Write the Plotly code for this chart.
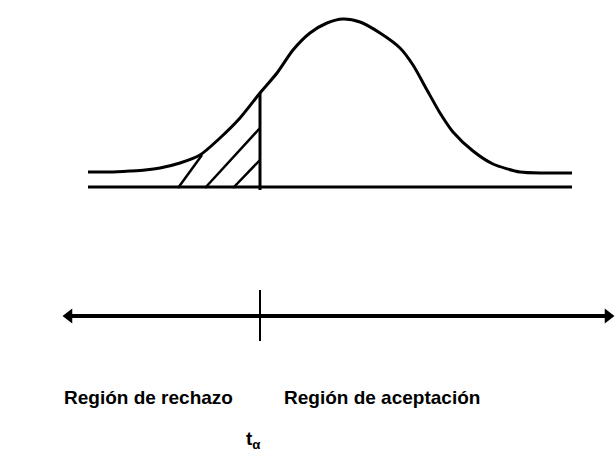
import plotly.graph_objects as go

# Curve points (x, y in picture units; y grows downward)
curve_x = [88, 110, 130, 145, 160, 180, 200, 220, 240, 260, 277, 293, 310, 327, 343,
           360, 380, 400, 413, 427, 440, 453, 473, 493, 520, 545, 572]
curve_y = [172, 172, 171, 170, 168, 163, 155, 138, 118, 93, 73, 50, 33, 23, 19,
           22, 33, 48, 65, 90, 113, 132, 151, 164, 172, 173, 173]

# Baseline of the distribution
base_x = [88, 572]
base_y = [187, 187]

# Critical value line
crit_x = [260, 260]
crit_y = [93, 190]

# Hatch strokes (start / end)
hatch_x0 = [178, 205, 233]
hatch_y0 = [188, 188, 188]
hatch_x1 = [202, 260, 260]
hatch_y1 = [155, 128, 160]

# Number line with arrows
axis_x = [69, 608]
axis_y = [316, 316]
tick_x = [260, 260]
tick_y = [290, 341]

labels = ["Región de rechazo", "Región de aceptación", "t<sub>α</sub>"]
label_x = [148, 382, 253]
label_y = [397, 397, 440]

fig = go.Figure()
black = "black"
fig.add_trace(go.Scatter(x=curve_x, y=curve_y, mode="lines",
                         line=dict(color=black, width=3, shape="spline", smoothing=0.7)))
fig.add_trace(go.Scatter(x=base_x, y=base_y, mode="lines", line=dict(color=black, width=3)))
fig.add_trace(go.Scatter(x=crit_x, y=crit_y, mode="lines", line=dict(color=black, width=3)))
for a, b, c, d in zip(hatch_x0, hatch_y0, hatch_x1, hatch_y1):
    fig.add_trace(go.Scatter(x=[a, c], y=[b, d], mode="lines", line=dict(color=black, width=2.5)))
fig.add_trace(go.Scatter(x=axis_x, y=axis_y, mode="lines", line=dict(color=black, width=4)))
fig.add_trace(go.Scatter(x=axis_x, y=axis_y, mode="markers", cliponaxis=False,
                         marker=dict(symbol=["triangle-left", "triangle-right"], size=13, color=black)))
fig.add_trace(go.Scatter(x=tick_x, y=tick_y, mode="lines", line=dict(color=black, width=2)))

for t, x, y in zip(labels, label_x, label_y):
    fig.add_annotation(x=x, y=y, text="<b>" + t + "</b>", showarrow=False,
                       xanchor="center", yanchor="middle",
                       font=dict(family="Liberation Sans, Arial", size=19, color=black))

fig.update_layout(width=615, height=457, margin=dict(l=0, r=0, t=0, b=0),
                  paper_bgcolor="white", plot_bgcolor="white", showlegend=False,
                  hovermode=False)
fig.update_xaxes(range=[0, 615], visible=False)
fig.update_yaxes(range=[457, 0], visible=False)
fig.write_html("out.html", config={"displayModeBar": False},
               post_script="document.body.style.margin='0';document.body.style.overflow='hidden';")
